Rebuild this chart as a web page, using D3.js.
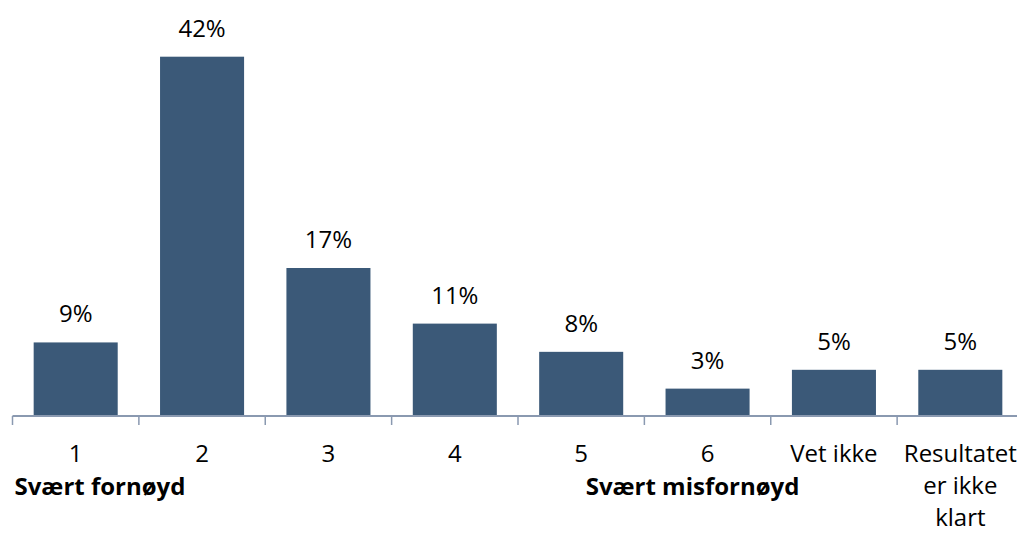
<!DOCTYPE html>
<html>
<head>
<meta charset="utf-8">
<script src="https://cdn.jsdelivr.net/npm/d3@7"></script>
<style>
  html, body { margin: 0; padding: 0; background: #fff; overflow: hidden; }
  text { font-family: "Open Sans", "Noto Sans", sans-serif; fill: #000; }
</style>
</head>
<body>
<div id="chart"></div>
<script>
// categories on the satisfaction scale (multi-line labels as arrays)
const categories = [["1"], ["2"], ["3"], ["4"], ["5"], ["6"], ["Vet ikke"], ["Resultatet", "er ikke", "klart"]];
// share of answers, in percent
const shares = [8.6, 42.0, 17.3, 10.8, 7.5, 3.2, 5.4, 5.4];
const valueLabels = ["9%", "42%", "17%", "11%", "8%", "3%", "5%", "5%"];
// bold anchors under the scale ends
const endLabels = ["Svært fornøyd", "Svært misfornøyd"];
const endIndex = [0, 5];

const width = 1017;
const height = 535;
const axisY = 416;

const svg = d3.select('#chart')
    .append('svg')
    .attr('width', width)
    .attr('height', height);

const keys = categories.map((c, i) => i);

const xScale = d3.scaleBand()
    .domain(keys)
    .range([12.5, 1023.5])
    .paddingInner(0.335)
    .paddingOuter(0.1675);

const yScale = d3.scaleLinear()
    .domain([0, d3.max(shares)])
    .range([axisY, 56.7]);

const step = xScale.step();
const halfGap = step * xScale.paddingInner() / 2;

// bars
svg.selectAll('.bar')
    .data(shares)
    .enter()
    .append('rect')
    .attr('class', 'bar')
    .attr('x', (d, i) => xScale(i))
    .attr('y', d => yScale(d))
    .attr('width', xScale.bandwidth())
    .attr('height', d => axisY - yScale(d))
    .attr('fill', '#3b5978');

// value labels
svg.selectAll('.value')
    .data(shares)
    .enter()
    .append('text')
    .attr('class', 'value')
    .attr('x', (d, i) => xScale(i) + xScale.bandwidth() / 2)
    .attr('y', d => yScale(d) - 20)
    .attr('text-anchor', 'middle')
    .style('font-size', '24px')
    .text((d, i) => valueLabels[i]);

// axis line
svg.append('line')
    .attr('x1', xScale.range()[0])
    .attr('x2', width + 10)
    .attr('y1', axisY)
    .attr('y2', axisY)
    .attr('stroke', '#8a99b0')
    .attr('stroke-width', 2);

// boundary ticks between categories
const boundaries = keys.concat([keys.length]).map(i => xScale.range()[0] + i * step);
svg.selectAll('.tick')
    .data(boundaries)
    .enter()
    .append('line')
    .attr('class', 'tick')
    .attr('x1', d => d)
    .attr('x2', d => d)
    .attr('y1', axisY)
    .attr('y2', axisY + 9)
    .attr('stroke', '#8a99b0')
    .attr('stroke-width', 1.5);

// category labels
const catText = svg.selectAll('.cat')
    .data(categories)
    .enter()
    .append('text')
    .attr('class', 'cat')
    .attr('text-anchor', 'middle')
    .style('font-size', '24px');

catText.selectAll('tspan')
    .data((d, i) => d.map(line => ({ line, i })))
    .enter()
    .append('tspan')
    .attr('x', d => xScale(d.i) + xScale.bandwidth() / 2)
    .attr('y', (d, j) => 462 + j * 32)
    .text(d => d.line);

// scale end labels
svg.append('text')
    .attr('x', xScale(endIndex[0]) - halfGap + 2)
    .attr('y', 495)
    .attr('text-anchor', 'start')
    .style('font-size', '24px')
    .style('font-weight', 'bold')
    .text(endLabels[0]);

svg.append('text')
    .attr('x', xScale(endIndex[1]) + xScale.bandwidth() / 2 - 15)
    .attr('y', 495)
    .attr('text-anchor', 'middle')
    .style('font-size', '24px')
    .style('font-weight', 'bold')
    .text(endLabels[1]);
</script>
</body>
</html>
